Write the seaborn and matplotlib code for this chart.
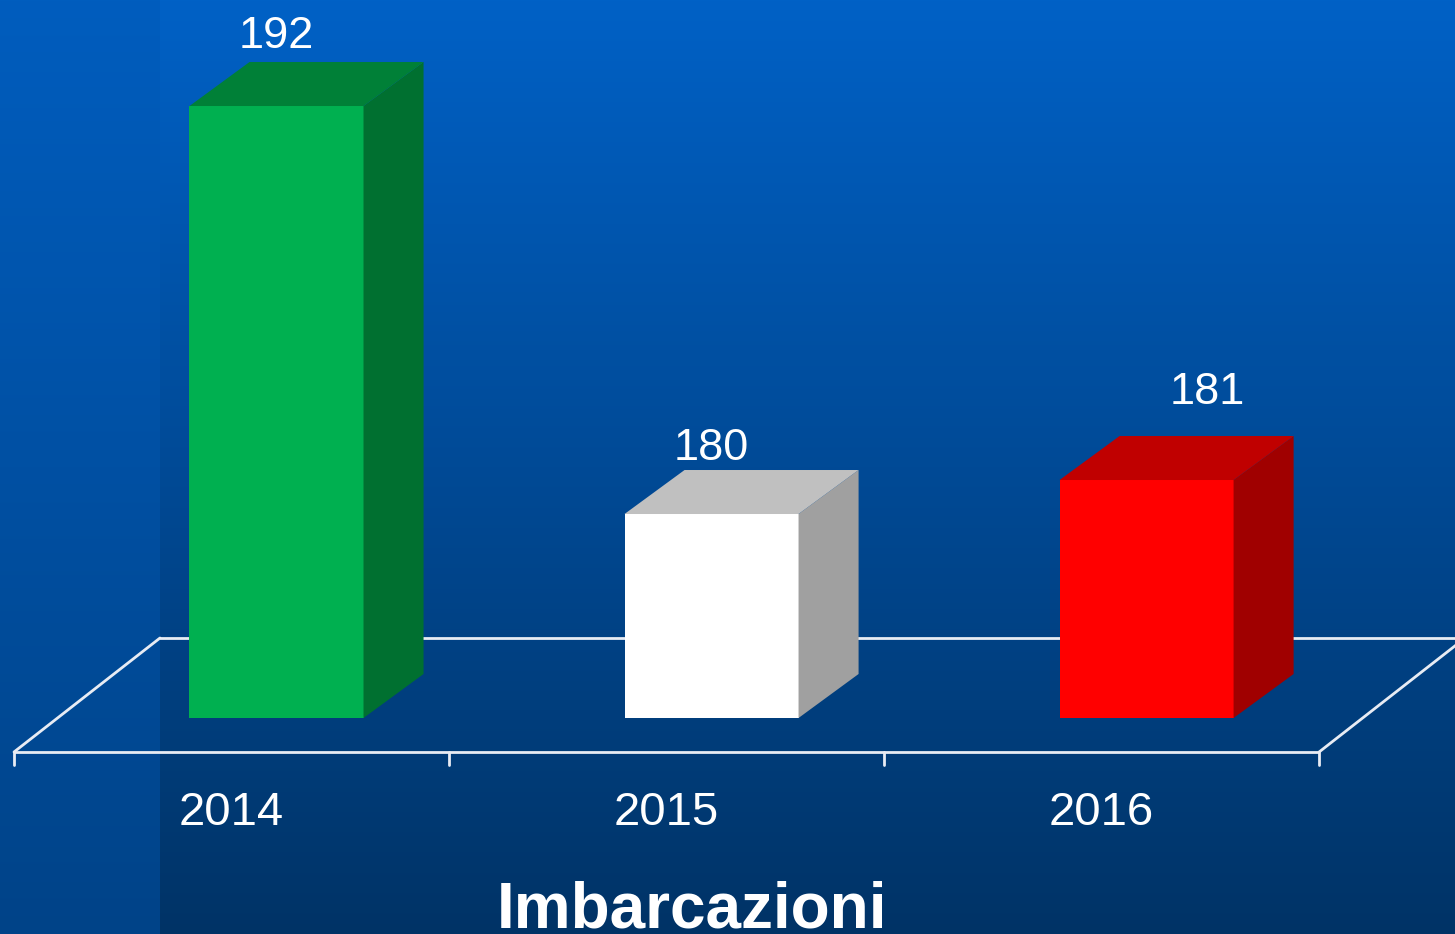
import numpy as np
import matplotlib
matplotlib.use("Agg")
import matplotlib.pyplot as plt
from matplotlib.patches import Polygon
import seaborn as sns

# ---- data ----
years = ["2014", "2015", "2016"]
values = [192, 180, 181]
title = "Imbarcazioni"

# ---- styles ----
front_colors = ["#00B050", "#FFFFFF", "#FF0000"]
top_colors = ["#008037", "#C0C0C0", "#C00000"]
side_colors = ["#007030", "#A0A0A0", "#A00000"]
label_dx = [0.0, 0.0, 0.14]
label_dy = [1.7, 1.6, 2.25]
BASE = 174.0          # value where the bars stand
DX, DY = 0.138, 1.294  # bar depth offset (data units)
FDX, FDY = 0.3356, 3.353  # floor depth
SHIFT = 0.1034        # floor front edge shift relative to categories
FRONT_Y = BASE - 1.0
XLIM = (-0.6356, 2.709)
YLIM = (167.647, 195.118)

sns.set_theme(style="white")
plt.rcParams["font.family"] = ["Liberation Sans", "DejaVu Sans"]

W, H = 1455, 934
fig = plt.figure(figsize=(W / 100, H / 100), dpi=100)

# background gradient
bg = fig.add_axes([0, 0, 1, 1])
t = np.linspace(0, 1, H)[:, None]
top_main = np.array([0x00, 0x61, 0xC6]) / 255
bot_main = np.array([0x00, 0x33, 0x66]) / 255
top_left = np.array([0x00, 0x5D, 0xBE]) / 255
bot_left = np.array([0x00, 0x43, 0x88]) / 255
img = np.zeros((H, W, 3))
main = top_main[None, :] * (1 - t) + bot_main[None, :] * t
left = top_left[None, :] * (1 - t) + bot_left[None, :] * t
img[:, :, :] = main[:, None, :]
img[:, :160, :] = left[:, None, :]
bg.imshow(img, extent=(0, W, H, 0), aspect="auto", interpolation="bilinear")
bg.set_xlim(0, W)
bg.set_ylim(H, 0)
bg.axis("off")

ax = fig.add_axes([0, 0, 1, 1])
ax.patch.set_alpha(0)

# bars
sns.barplot(x=years, y=values, hue=years, palette=front_colors, width=0.4,
            saturation=1, legend=False, ax=ax, edgecolor="none", linewidth=0,
            zorder=3)
ax.set_xlim(*XLIM)
ax.set_ylim(*YLIM)

# floor (drawn behind bars)
n = len(years)
xl = -0.5 - SHIFT
xr = n - 0.5 - SHIFT
lc = "#E8ECF4"
lw = 2.0
ax.plot([xl, xr], [FRONT_Y, FRONT_Y], color=lc, lw=lw, zorder=1, solid_capstyle="butt")
ax.plot([xl, xl + FDX], [FRONT_Y, FRONT_Y + FDY], color=lc, lw=lw, zorder=1)
ax.plot([xr, xr + FDX], [FRONT_Y, FRONT_Y + FDY], color=lc, lw=lw, zorder=1)
ax.plot([xl + FDX, xr + FDX + 0.5], [FRONT_Y + FDY, FRONT_Y + FDY], color=lc, lw=lw, zorder=1)
for k in range(n + 1):
    xt = xl + k
    ax.plot([xt, xt], [FRONT_Y, FRONT_Y - 0.38], color=lc, lw=lw, zorder=1)

for p in list(ax.patches):
    cx = p.get_x() + p.get_width() / 2
    i = int(round(cx))
    if i < 0 or i >= n:
        continue
    v = values[i]
    p.set_y(BASE)
    p.set_height(v - BASE)
    x0 = p.get_x()
    x1 = x0 + p.get_width()
    y1 = v
    side = Polygon([(x1, BASE), (x1 + DX, BASE + DY), (x1 + DX, y1 + DY), (x1, y1)],
                   closed=True, facecolor=side_colors[i], edgecolor="none", zorder=3)
    top = Polygon([(x0, y1), (x0 + DX, y1 + DY), (x1 + DX, y1 + DY), (x1, y1)],
                  closed=True, facecolor=top_colors[i], edgecolor="none", zorder=3)
    ax.add_patch(side)
    ax.add_patch(top)

# value labels
for i, v in enumerate(values):
    ax.text(i + label_dx[i], v + label_dy[i], f"{v}", ha="center", va="baseline",
            color="white", fontsize=32.5, zorder=5)

# category labels
for i, yr in enumerate(years):
    ax.text(i - SHIFT, 170.85, yr, ha="center", va="baseline",
            color="white", fontsize=34, zorder=5)

ax.set_xlim(*XLIM)
ax.set_ylim(*YLIM)
ax.axis("off")

fig.text(692 / W, 7 / H, title, ha="center", va="baseline", color="white",
         fontsize=46, fontweight="bold")

fig.savefig("out.png", dpi=100)
